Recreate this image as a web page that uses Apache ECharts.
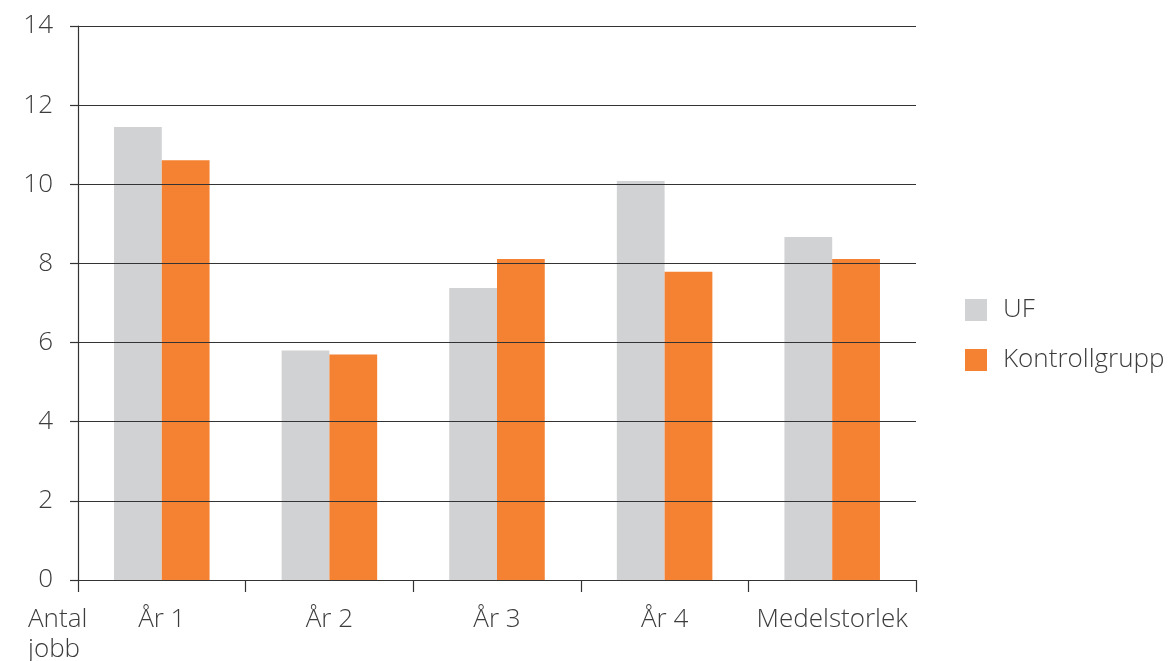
<!DOCTYPE html>
<html>
<head>
<meta charset="utf-8">
<script src="https://cdn.jsdelivr.net/npm/echarts@6/dist/echarts.min.js"></script>
<style>
  html, body { margin: 0; padding: 0; background: #fff; }
  #chart { width: 1173px; height: 661px; }
</style>
</head>
<body>
<div id="chart"></div>
<script>
// Antal jobb per företag: UF jämfört med kontrollgrupp
const categories = ['År 1', 'År 2', 'År 3', 'År 4', 'Medelstorlek'];
const ufValues = [11.45, 5.8, 7.38, 10.08, 8.67];
const kontrollValues = [10.61, 5.7, 8.11, 7.79, 8.11];
const seriesNames = ['UF', 'Kontrollgrupp'];

const FONT = '"Open Sans", Lato, sans-serif';
const WEIGHT = 300;
const SIZE = 26;
const TEXT = '#3c3c3c';
const LINE = '#333333';

const chart = echarts.init(document.getElementById('chart'), null, { renderer: 'canvas' });

chart.setOption({
  animation: false,
  grid: { left: 78, right: 257, top: 26, bottom: 81, containLabel: false },
  legend: {
    orient: 'vertical',
    left: 965,
    top: 297,
    padding: 0,
    itemWidth: 22,
    itemHeight: 22,
    itemGap: 24,
    icon: 'rect',
    textStyle: { fontFamily: FONT, fontWeight: WEIGHT, fontSize: SIZE, color: TEXT, padding: [0, 0, 0, 11] },
    data: seriesNames
  },
  xAxis: {
    type: 'category',
    data: categories,
    axisLine: { show: true, lineStyle: { color: LINE, width: 1.2 } },
    axisTick: { show: true, interval: 0, length: 12, alignWithLabel: false, lineStyle: { color: LINE, width: 1.2 } },
    axisLabel: { interval: 0, hideOverlap: false, fontFamily: FONT, fontWeight: WEIGHT, fontSize: SIZE, color: TEXT, margin: 27 },
    splitLine: { show: false }
  },
  yAxis: {
    type: 'value',
    min: 0,
    max: 14,
    interval: 2,
    z: 5,
    axisLine: { show: true, lineStyle: { color: LINE, width: 1.2 } },
    axisTick: { show: true, length: 8, lineStyle: { color: LINE, width: 1.2 } },
    axisLabel: { fontFamily: FONT, fontWeight: WEIGHT, fontSize: SIZE, color: TEXT, margin: 25 },
    splitLine: { show: true, lineStyle: { color: LINE, width: 1.2 } }
  },
  graphic: [
    {
      type: 'text',
      left: 28,
      top: 605,
      style: {
        text: 'Antal\njobb',
        fontFamily: FONT,
        fontWeight: WEIGHT,
        fontSize: SIZE,
        lineHeight: 30,
        fill: TEXT
      }
    }
  ],
  series: [
    {
      name: seriesNames[0],
      type: 'bar',
      data: ufValues,
      barGap: '0%',
      barCategoryGap: '43%',
      itemStyle: { color: '#d1d2d4' }
    },
    {
      name: seriesNames[1],
      type: 'bar',
      data: kontrollValues,
      barGap: '0%',
      barCategoryGap: '43%',
      itemStyle: { color: '#f48232' }
    }
  ]
});
</script>
</body>
</html>
